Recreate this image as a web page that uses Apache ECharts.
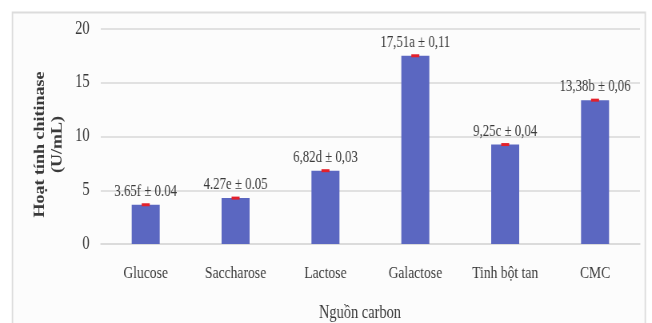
<!DOCTYPE html>
<html>
<head>
<meta charset="utf-8">
<script src="https://cdn.jsdelivr.net/npm/echarts@6/dist/echarts.min.js"></script>
<style>
  html, body { margin: 0; padding: 0; background: #ffffff; overflow: hidden; }
  /* the chart is laid out wider and squeezed horizontally, giving the narrow type look */
  #chart { width: 815px; height: 323px; transform: scaleX(0.8); transform-origin: 0 0; }
</style>
</head>
<body>
<div id="chart"></div>
<script>
// Chitinase activity by carbon source
const categories = ['Glucose', 'Saccharose', 'Lactose', 'Galactose', 'Tinh bột tan', 'CMC'];
const activity = [3.65, 4.27, 6.82, 17.51, 9.25, 13.38];
const stdDev = [0.04, 0.05, 0.03, 0.11, 0.04, 0.06];
const groupLetters = ['f', 'e', 'd', 'a', 'c', 'b'];
const decimalMark = ['.', '.', ',', ',', ',', ','];
const yTicks = [0, 5, 10, 15, 20];

const serif = '"Liberation Serif", "DejaVu Serif", serif';
const textColor = '#3a3a3a';

function fmt(v, i) {
  return v.toFixed(2).replace('.', decimalMark[i]);
}
const valueLabels = activity.map((v, i) => fmt(v, i) + groupLetters[i] + ' ± ' + fmt(stdDev[i], i));

const chart = echarts.init(document.getElementById('chart'), null, { renderer: 'canvas' });

chart.setOption({
  animation: false,
  backgroundColor: '#ffffff',
  graphic: [{
    type: 'rect',
    z: -10,
    shape: { x: 15.6, y: 12.5, width: 791, height: 330 },
    style: { fill: '#fcfcfc', stroke: '#dcdcdc', lineWidth: 1.8 }
  }],
  grid: { left: 126, right: 15, top: 29, bottom: 79, containLabel: false, outerBoundsMode: 'none' },
  xAxis: {
    type: 'category',
    data: categories,
    axisTick: { show: false },
    axisLine: { show: true, lineStyle: { color: '#d9d9d9', width: 1.5 } },
    axisLabel: { interval: 0, fontFamily: serif, fontSize: 17, color: textColor, margin: 21 },
    name: 'Nguồn carbon',
    nameLocation: 'middle',
    nameGap: 60,
    nameTextStyle: { fontFamily: serif, fontSize: 18, color: textColor, padding: [0, 26, 0, 0] }
  },
  yAxis: {
    type: 'value',
    min: yTicks[0],
    max: yTicks[yTicks.length - 1],
    interval: yTicks[1] - yTicks[0],
    axisLine: { show: false },
    axisTick: { show: false },
    splitLine: { lineStyle: { color: '#d9d9d9', width: 1.5 } },
    axisLabel: { fontFamily: serif, fontSize: 18, color: textColor, margin: 14 },
    name: 'Hoạt tính chitinase\n(U/mL)',
    nameLocation: 'middle',
    nameRotate: 90,
    nameGap: 42,
    nameTextStyle: {
      fontFamily: serif, fontSize: 18, fontWeight: 'bold', color: textColor,
      lineHeight: 22, padding: [0, 16, 0, 0]
    }
  },
  series: [
    {
      type: 'bar',
      data: activity,
      barWidth: 35,
      itemStyle: { color: '#5b67c1' },
      label: {
        show: true,
        position: 'top',
        distance: 5,
        fontFamily: serif,
        fontSize: 16,
        color: textColor,
        formatter: (p) => valueLabels[p.dataIndex]
      },
      z: 2
    },
    {
      // error marks: ±SD around each mean, at least a few pixels tall
      type: 'custom',
      z: 3,
      data: activity.map((v, i) => [i, v, stdDev[i]]),
      renderItem: (params, api) => {
        const i = api.value(0);
        const v = api.value(1);
        const s = api.value(2);
        const top = api.coord([i, v + s]);
        const bot = api.coord([i, v - s]);
        const mid = api.coord([i, v]);
        const h = Math.max(3, bot[1] - top[1]);
        return {
          type: 'rect',
          shape: { x: mid[0] - 5, y: mid[1] - h / 2, width: 10, height: h },
          style: { fill: '#e3202b' }
        };
      }
    }
  ]
});
</script>
</body>
</html>
